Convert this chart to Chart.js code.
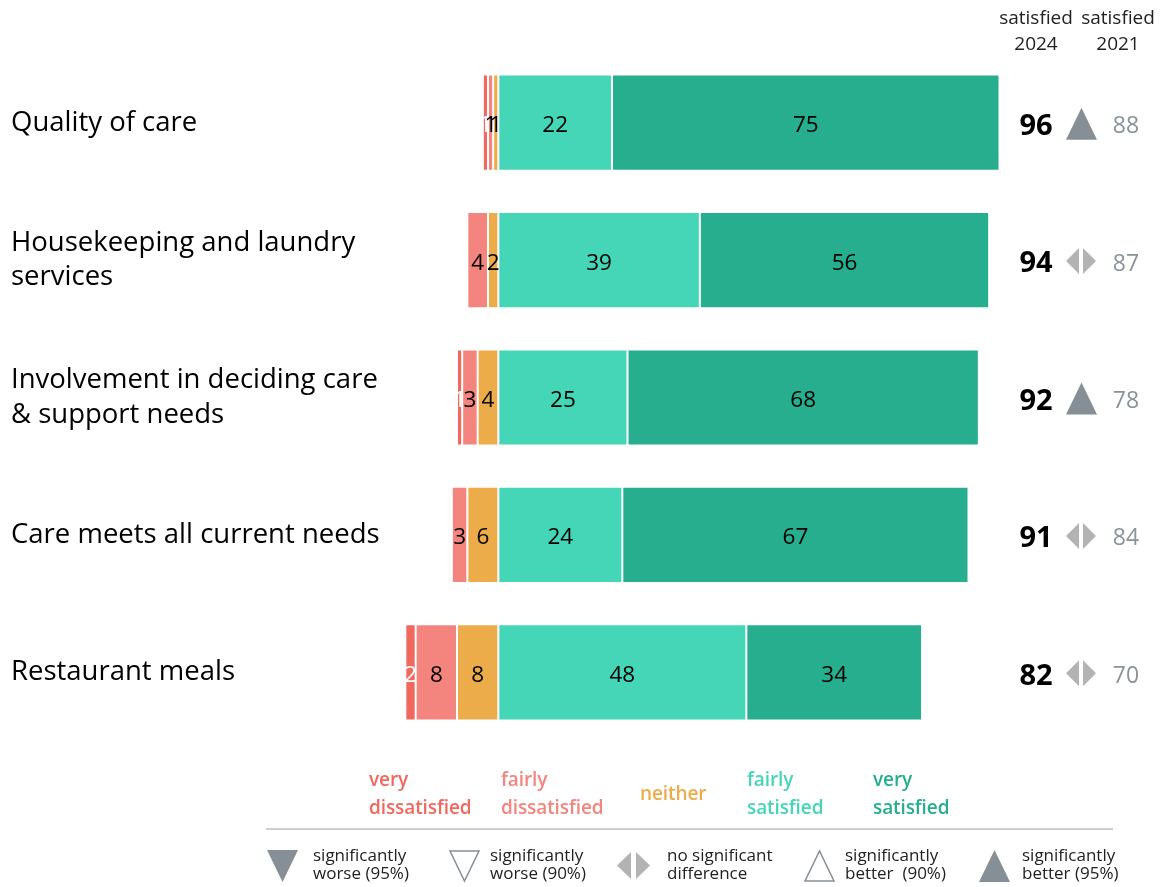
<!DOCTYPE html>
<html>
<head>
<meta charset="utf-8">
<script src="https://cdn.jsdelivr.net/npm/chart.js@4/dist/chart.umd.min.js"></script>
<style>
  body { margin: 0; background: #fff; font-family: "Open Sans", "Noto Sans", sans-serif; }
  #wrap { position: relative; width: 1172px; height: 887px; }
  #wrap canvas { position: absolute; left: 0; top: 0; }
  .hdr { position: absolute; top: 4px; width: 90px; text-align: center; font-size: 19px; line-height: 26px; color: #222; }
  .lg { position: absolute; font-size: 19px; font-weight: 600; line-height: 28px; letter-spacing: -0.1px; }
  .rule { position: absolute; left: 266px; top: 828px; width: 847px; height: 2px; background: #cfcfcf; }
  .sig { position: absolute; top: 846px; font-size: 17px; line-height: 18px; color: #222; }
  .sym { position: absolute; top: 849px; }
</style>
</head>
<body>
<div id="wrap">
  <canvas id="chart" width="1172" height="887"></canvas>

  <div class="hdr" style="left:991px">satisfied<br>2024</div>
  <div class="hdr" style="left:1073px">satisfied<br>2021</div>

  <div class="lg" style="left:369px;top:765px;color:#f1685e">very<br>dissatisfied</div>
  <div class="lg" style="left:501px;top:765px;color:#f4857e">fairly<br>dissatisfied</div>
  <div class="lg" style="left:640px;top:779px;color:#edac4a">neither</div>
  <div class="lg" style="left:747px;top:765px;color:#44d6b7">fairly<br>satisfied</div>
  <div class="lg" style="left:873px;top:765px;color:#26ae8f">very<br>satisfied</div>

  <div class="rule"></div>

  <svg class="sym" style="left:266px" width="34" height="34"><polygon points="1,1 32,1 16.5,33" fill="#868e96"/></svg>
  <div class="sig" style="left:313px">significantly<br>worse (95%)</div>
  <svg class="sym" style="left:448px" width="34" height="34"><polygon points="2,2 31,2 16.5,32" fill="#fff" stroke="#868e96" stroke-width="1.5"/></svg>
  <div class="sig" style="left:490px">significantly<br>worse (90%)</div>
  <svg class="sym" style="left:616px" width="38" height="34"><polygon points="15,3 15,30 1,16.5" fill="#b3b3b3"/><polygon points="20,3 20,30 34,16.5" fill="#b3b3b3"/></svg>
  <div class="sig" style="left:667px">no significant<br>difference</div>
  <svg class="sym" style="left:803px" width="34" height="34"><polygon points="2,32 31,32 16.5,2" fill="#fff" stroke="#868e96" stroke-width="1.5"/></svg>
  <div class="sig" style="left:845px">significantly<br>better&nbsp; (90%)</div>
  <svg class="sym" style="left:978px" width="34" height="34"><polygon points="1,33 32,33 16.5,1" fill="#868e96"/></svg>
  <div class="sig" style="left:1022px">significantly<br>better (95%)</div>
</div>

<script>
// categories and survey results (percent)
const categories = [
  "Quality of care",
  ["Housekeeping and laundry", "services"],
  ["Involvement in deciding care", "& support needs"],
  "Care meets all current needs",
  "Restaurant meals"
];
const veryDissatisfied   = [1, 0, 1, 0, 2];
const fairlyDissatisfied = [1, 4, 3, 3, 8];
const neither            = [1, 2, 4, 6, 8];
const fairlySatisfied    = [22, 39, 25, 24, 48];
const verySatisfied      = [75, 56, 68, 67, 34];

// right-hand columns
const satisfied2024 = [96, 94, 92, 91, 82];
const satisfied2021 = [88, 87, 78, 84, 70];
const change        = ["up95", "same", "up95", "same", "same"];

const FONT = "'Open Sans', 'Noto Sans', sans-serif";

// negative side is stacked outwards from zero: neither first, then fairly, then very
const datasets = [
  { label: "neither", data: neither.map(v => -v), backgroundColor: "#edac4a", labelColor: "#000" },
  { label: "fairly dissatisfied", data: fairlyDissatisfied.map(v => -v), backgroundColor: "#f4857e", labelColor: "#000" },
  { label: "very dissatisfied", data: veryDissatisfied.map(v => -v), backgroundColor: "#f1685e", labelColor: "#fff" },
  { label: "fairly satisfied", data: fairlySatisfied, backgroundColor: "#44d6b7", labelColor: "#000" },
  { label: "very satisfied", data: verySatisfied, backgroundColor: "#26ae8f", labelColor: "#000" }
];
datasets.forEach(d => {
  d.borderColor = "rgba(255,255,255,0.18)";
  d.borderWidth = 1;
  d.borderSkipped = false;
  d.barPercentage = 0.7;
  d.categoryPercentage = 1;
});

// numbers inside each segment
const segmentLabels = {
  id: "segmentLabels",
  afterDatasetsDraw(chart) {
    const ctx = chart.ctx;
    ctx.save();
    ctx.font = "22.5px " + FONT;
    ctx.textAlign = "center";
    ctx.textBaseline = "middle";
    chart.data.datasets.forEach((ds, di) => {
      const meta = chart.getDatasetMeta(di);
      meta.data.forEach((bar, i) => {
        const v = Math.abs(ds.data[i]);
        if (!v) return;
        const p = bar.getCenterPoint();
        ctx.fillStyle = ds.labelColor;
        ctx.fillText(String(v), p.x, p.y + 3);
      });
    });
    ctx.restore();
  }
};

// satisfied 2024 / change marker / satisfied 2021
const sideColumns = {
  id: "sideColumns",
  afterDraw(chart) {
    const ctx = chart.ctx;
    const y = chart.scales.y;
    ctx.save();
    ctx.textBaseline = "middle";
    ctx.textAlign = "center";
    categories.forEach((c, i) => {
      const cy = y.getPixelForValue(i);
      ctx.font = "bold 29px " + FONT;
      ctx.fillStyle = "#000";
      ctx.fillText(String(satisfied2024[i]), 1036, cy + 4);

      if (change[i] === "up95") {
        ctx.fillStyle = "#868e96";
        ctx.beginPath();
        ctx.moveTo(1066, cy + 17);
        ctx.lineTo(1097, cy + 17);
        ctx.lineTo(1081.5, cy - 15);
        ctx.closePath();
        ctx.fill();
      } else {
        ctx.fillStyle = "#b3b3b3";
        ctx.beginPath();
        ctx.moveTo(1079, cy - 12);
        ctx.lineTo(1079, cy + 14);
        ctx.lineTo(1066, cy + 1);
        ctx.closePath();
        ctx.fill();
        ctx.beginPath();
        ctx.moveTo(1083, cy - 12);
        ctx.lineTo(1083, cy + 14);
        ctx.lineTo(1096, cy + 1);
        ctx.closePath();
        ctx.fill();
      }

      ctx.font = "23px " + FONT;
      ctx.fillStyle = "#8a929a";
      ctx.fillText(String(satisfied2021[i]), 1126, cy + 4);
    });
    ctx.restore();
  }
};

new Chart(document.getElementById("chart"), {
  type: "bar",
  data: { labels: categories, datasets: datasets },
  options: {
    indexAxis: "y",
    responsive: false,
    animation: false,
    layout: { padding: { left: 11, top: 54, bottom: 146, right: 157 } },
    plugins: { legend: { display: false }, tooltip: { enabled: false } },
    scales: {
      x: { display: false, stacked: true, min: -20, max: 100 },
      y: {
        stacked: true,
        grid: { display: false },
        border: { display: false },
        ticks: {
          crossAlign: "far",
          padding: 0,
          color: "#000",
          font: { family: FONT, size: 27.5, lineHeight: 1.25 }
        },
        afterFit(scale) { scale.width = 384; }
      }
    }
  },
  plugins: [segmentLabels, sideColumns]
});
</script>
</body>
</html>
